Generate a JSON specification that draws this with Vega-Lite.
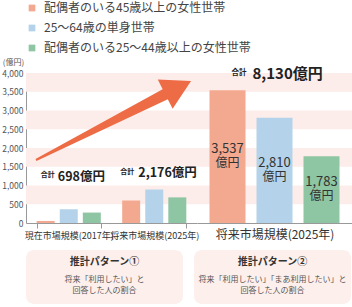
{
  "$schema": "https://vega.github.io/schema/vega-lite/v6.json",
  "padding": {"left": 1, "top": 2, "right": 0, "bottom": 0},
  "config": {
    "font": "Noto Sans CJK JP",
    "view": {"stroke": null},
    "axisY": {"labelOverlap": false, "tickCount": 9},
    "locale": {"number": {"decimal": ".", "thousands": ",", "grouping": [3], "currency": ["", "億円"]}},
    "legend": {"orient": "top", "direction": "vertical", "labelFontSize": 12, "labelColor": "#444", "labelLimit": 0, "symbolType": "square", "symbolSize": 45, "symbolStrokeWidth": 0, "rowPadding": 8, "offset": 4, "labelOffset": 6, "padding": 0}
  },
  "datasets": {
    "market": [
      {"period": "現在市場規模(2017年)", "pattern": "現状", "series": "配偶者のいる45歳以上の女性世帯", "value": 55},
      {"period": "現在市場規模(2017年)", "pattern": "現状", "series": "25～64歳の単身世帯", "value": 365},
      {"period": "現在市場規模(2017年)", "pattern": "現状", "series": "配偶者のいる25～44歳以上の女性世帯", "value": 278},
      {"period": "将来市場規模(2025年)", "pattern": "推計パターン①", "series": "配偶者のいる45歳以上の女性世帯", "value": 600},
      {"period": "将来市場規模(2025年)", "pattern": "推計パターン①", "series": "25～64歳の単身世帯", "value": 893},
      {"period": "将来市場規模(2025年)", "pattern": "推計パターン①", "series": "配偶者のいる25～44歳以上の女性世帯", "value": 683},
      {"period": "将来市場規模(2025年)", "pattern": "推計パターン②", "series": "配偶者のいる45歳以上の女性世帯", "value": 3537},
      {"period": "将来市場規模(2025年)", "pattern": "推計パターン②", "series": "25～64歳の単身世帯", "value": 2810},
      {"period": "将来市場規模(2025年)", "pattern": "推計パターン②", "series": "配偶者のいる25～44歳以上の女性世帯", "value": 1783}
    ],
    "bands": [
      {"lo": 500, "hi": 1000},
      {"lo": 1500, "hi": 2000},
      {"lo": 2500, "hi": 3000},
      {"lo": 3500, "hi": 4000}
    ],
    "boxes": [
      {"id": 1, "title": "推計パターン①", "line1": "将来「利用したい」と", "line2": "回答した人の割合"},
      {"id": 2, "title": "推計パターン②", "line1": "将来「利用したい」「まあ利用したい」と", "line2": "回答した人の割合"}
    ]
  },
  "spacing": 10,
  "vconcat": [
    {
      "spacing": 0,
      "bounds": "flush",
      "hconcat": [
        {
          "width": 171,
          "height": 150,
          "layer": [
            {
              "data": {"name": "bands"},
              "mark": {"type": "rect", "color": "#fdedea"},
              "encoding": {
                "y": {"field": "lo", "type": "quantitative", "scale": {"domain": [0, 4000], "nice": false}},
                "y2": {"field": "hi"}
              }
            },
            {
              "data": {"name": "market"},
              "transform": [{"filter": "datum.pattern !== '推計パターン②'"}],
              "mark": {"type": "bar"},
              "encoding": {
                "x": {"field": "period", "type": "nominal", "sort": ["現在市場規模(2017年)", "将来市場規模(2025年)"], "scale": {"paddingInner": 0.25, "paddingOuter": 0.125},
                  "axis": {"title": null, "labelAngle": 0, "labelFontSize": 9, "labelColor": "#333", "labelOverlap": false, "tickBand": "extent", "tickSize": 5, "tickColor": "#999", "domainColor": "#999", "labelPadding": 3}},
                "xOffset": {"field": "series", "type": "nominal", "sort": ["配偶者のいる45歳以上の女性世帯", "25～64歳の単身世帯", "配偶者のいる25～44歳以上の女性世帯"], "scale": {"paddingInner": 0.22}},
                "y": {"field": "value", "type": "quantitative", "stack": null,
                  "axis": {"title": "(億円)", "values": [0, 500, 1000, 1500, 2000, 2500, 3000, 3500, 4000], "tickCount": 9, "format": ",d", "labelOverlap": false, "ticks": false, "grid": false, "labelFontSize": 8.5, "labelColor": "#555", "domainColor": "#999", "labelPadding": 3, "titleAngle": 0, "titleX": -13, "titleY": -11, "titleAlign": "center", "titleBaseline": "middle", "titleFontSize": 8, "titleFontWeight": "normal", "titleColor": "#555"}},
                "color": {"field": "series", "type": "nominal", "scale": {"domain": ["配偶者のいる45歳以上の女性世帯", "25～64歳の単身世帯", "配偶者のいる25～44歳以上の女性世帯"], "range": ["#f3a890", "#b4d3ea", "#8ec5a2"]}, "legend": {"title": null}}
              }
            },
            {
              "data": {"values": [{}]},
              "mark": {"type": "point", "shape": "M-1,-0.012L0.667,-0.065L0.667,-0.188L1,0L0.667,0.188L0.667,0.065L-1,0.012Z", "filled": true, "size": 30276, "angle": -27, "color": "#ed6b45", "opacity": 1, "strokeWidth": 0},
              "encoding": {
                "x": {"datum": "現在市場規模(2017年)", "type": "nominal", "bandPosition": 1.198, "sort": ["現在市場規模(2017年)", "将来市場規模(2025年)"]},
                "y": {"datum": 2733, "type": "quantitative"}
              }
            },
            {
              "data": {"name": "market"},
              "transform": [
                {"filter": "datum.pattern === '現状'"},
                {"aggregate": [{"op": "sum", "field": "value", "as": "total"}], "groupby": ["period"]}
              ],
              "encoding": {
                "x": {"field": "period", "type": "nominal", "sort": ["現在市場規模(2017年)", "将来市場規模(2025年)"]},
                "y": {"datum": 1227, "type": "quantitative"}
              },
              "layer": [
                {"mark": {"type": "text", "text": "合計", "fontSize": 7, "fontWeight": "bold", "align": "right", "baseline": "middle", "dx": -14, "dy": -1.5, "color": "#222"}},
                {"mark": {"type": "text", "fontSize": 12.5, "fontWeight": "bold", "align": "left", "baseline": "middle", "dx": -11, "color": "#222"},
                  "encoding": {"text": {"field": "total", "type": "quantitative", "format": "$,"}}}
              ]
            },
            {
              "data": {"name": "market"},
              "transform": [
                {"filter": "datum.pattern === '推計パターン①'"},
                {"aggregate": [{"op": "sum", "field": "value", "as": "total"}], "groupby": ["period"]}
              ],
              "encoding": {
                "x": {"field": "period", "type": "nominal", "sort": ["現在市場規模(2017年)", "将来市場規模(2025年)"]},
                "y": {"datum": 1333, "type": "quantitative"}
              },
              "layer": [
                {"mark": {"type": "text", "text": "合計", "fontSize": 7, "fontWeight": "bold", "align": "right", "baseline": "middle", "dx": -20, "dy": -1.5, "color": "#222"}},
                {"mark": {"type": "text", "fontSize": 12.5, "fontWeight": "bold", "align": "left", "baseline": "middle", "dx": -16, "color": "#222"},
                  "encoding": {"text": {"field": "total", "type": "quantitative", "format": "$,"}}}
              ]
            }
          ]
        },
        {
          "width": 155,
          "height": 150,
          "layer": [
            {
              "data": {"name": "bands"},
              "mark": {"type": "rect", "color": "#fdedea"},
              "encoding": {
                "y": {"field": "lo", "type": "quantitative", "scale": {"domain": [0, 4000], "nice": false}, "axis": null},
                "y2": {"field": "hi"}
              }
            },
            {
              "data": {"name": "market"},
              "transform": [{"filter": "datum.pattern === '推計パターン②'"}],
              "mark": {"type": "bar"},
              "encoding": {
                "x": {"field": "series", "type": "nominal", "sort": ["配偶者のいる45歳以上の女性世帯", "25～64歳の単身世帯", "配偶者のいる25～44歳以上の女性世帯"], "scale": {"paddingInner": 0.234, "paddingOuter": 0.266},
                  "axis": {"title": "将来市場規模(2025年)", "labels": false, "ticks": false, "domainColor": "#999", "titleFontSize": 12, "titleFontWeight": "normal", "titleColor": "#333", "titlePadding": 6}},
                "y": {"field": "value", "type": "quantitative", "stack": null, "axis": null},
                "color": {"field": "series", "type": "nominal", "scale": {"domain": ["配偶者のいる45歳以上の女性世帯", "25～64歳の単身世帯", "配偶者のいる25～44歳以上の女性世帯"], "range": ["#f3a890", "#b4d3ea", "#8ec5a2"]}, "legend": {"title": null}}
              }
            },
            {
              "data": {"name": "market"},
              "transform": [{"filter": "datum.pattern === '推計パターン②'"}],
              "encoding": {
                "x": {"field": "series", "type": "nominal", "sort": ["配偶者のいる45歳以上の女性世帯", "25～64歳の単身世帯", "配偶者のいる25～44歳以上の女性世帯"]},
                "y": {"field": "value", "type": "quantitative", "stack": "zero", "bandPosition": 0.5, "axis": null}
              },
              "layer": [
                {"mark": {"type": "text", "fontSize": 13, "color": "#333", "baseline": "middle", "dy": -7.3},
                  "encoding": {"text": {"field": "value", "type": "quantitative", "format": ","}}},
                {"mark": {"type": "text", "text": "億円", "fontSize": 12, "color": "#333", "baseline": "middle", "dy": 6.7}}
              ]
            },
            {
              "data": {"name": "market"},
              "transform": [
                {"filter": "datum.pattern === '推計パターン②'"},
                {"aggregate": [{"op": "sum", "field": "value", "as": "total"}], "groupby": ["pattern"]}
              ],
              "encoding": {
                "x": {"datum": "25～64歳の単身世帯", "type": "nominal"},
                "y": {"datum": 3973, "type": "quantitative"}
              },
              "layer": [
                {"mark": {"type": "text", "text": "合計", "fontSize": 7.5, "fontWeight": "bold", "align": "right", "baseline": "middle", "dx": -28, "dy": -1.5, "color": "#222"}},
                {"mark": {"type": "text", "fontSize": 15, "fontWeight": "bold", "align": "left", "baseline": "middle", "dx": -22, "color": "#222"},
                  "encoding": {"text": {"field": "total", "type": "quantitative", "format": "$,"}}}
              ]
            }
          ]
        }
      ]
    },
    {
      "spacing": 11,
      "hconcat": [
        {
          "width": 157,
          "height": 54,
          "view": {"fill": "#fcefec", "stroke": null, "cornerRadius": 8},
          "data": {"name": "boxes"},
          "transform": [{"filter": "datum.id === 1"}],
          "layer": [
            {"mark": {"type": "text", "fontSize": 10, "fontWeight": "bold", "color": "#333", "dy": -15}, "encoding": {"text": {"field": "title", "type": "nominal"}}},
            {"mark": {"type": "text", "fontSize": 8, "color": "#555", "dy": 3}, "encoding": {"text": {"field": "line1", "type": "nominal"}}},
            {"mark": {"type": "text", "fontSize": 8, "color": "#555", "dy": 14}, "encoding": {"text": {"field": "line2", "type": "nominal"}}}
          ]
        },
        {
          "width": 157,
          "height": 54,
          "view": {"fill": "#fcefec", "stroke": null, "cornerRadius": 8},
          "data": {"name": "boxes"},
          "transform": [{"filter": "datum.id === 2"}],
          "layer": [
            {"mark": {"type": "text", "fontSize": 10, "fontWeight": "bold", "color": "#333", "dy": -15}, "encoding": {"text": {"field": "title", "type": "nominal"}}},
            {"mark": {"type": "text", "fontSize": 8, "color": "#555", "dy": 3}, "encoding": {"text": {"field": "line1", "type": "nominal"}}},
            {"mark": {"type": "text", "fontSize": 8, "color": "#555", "dy": 14}, "encoding": {"text": {"field": "line2", "type": "nominal"}}}
          ]
        }
      ]
    }
  ]
}
